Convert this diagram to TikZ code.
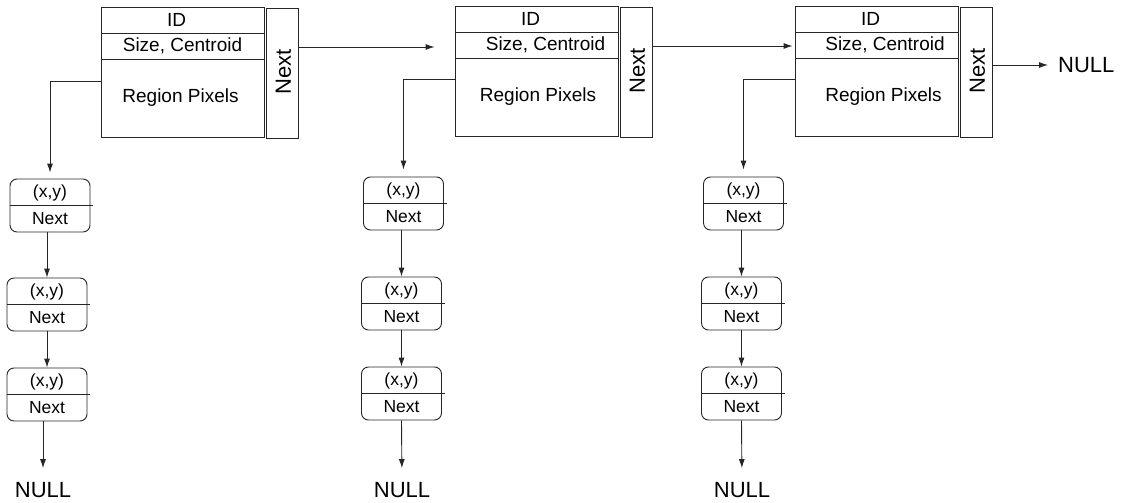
\documentclass[tikz,border=0pt]{standalone}
\usepackage{fontspec}
\setmainfont{Liberation Sans}
\usetikzlibrary{arrows.meta,calc}
\tikzset{
  ln/.style={line width=0.9pt, draw=black!85},
  arr/.style={ln, -{Latex[length=9pt,width=6pt]}},
  part/.style={ln, rectangle, minimum width=163pt, inner sep=0pt},
  nextbox/.style={ln, rectangle, minimum width=32pt, minimum height=130pt, inner sep=0pt},
  btxt/.style={inner sep=0pt, font=\fontsize{19}{21}\selectfont},
  ntxt/.style={inner sep=0pt, font=\fontsize{22}{24}\selectfont, rotate=90},
  pt/.style={ln, rectangle, rounded corners=7pt, minimum width=80pt, minimum height=53pt, inner sep=0pt},
  pttxt/.style={inner sep=0pt, font=\fontsize{17.5}{19}\selectfont},
  nulltxt/.style={inner sep=0pt, font=\fontsize{22}{24}\selectfont},
}
\newcommand{\ptnode}[3]{%
  \node[pt] (#1) at (#2,#3+26.5) {};
  \draw[ln] (#1.west) -- ([xshift=3pt]#1.east);
  \node[pttxt] (#1xy) at (#2,#3+13.5) {(x,y)};
  \node[pttxt] (#1nx) at (#2,#3+40) {Next};
}
\newcommand{\blocknode}[3]{%
  % #1 name, #2 center x of main box, #3 top y
  \node[part, minimum height=26pt] (#1id) at (#2,#3+13) {};
  \node[part, minimum height=26pt] (#1sz) at (#2,#3+39) {};
  \node[part, minimum height=78pt] (#1rg) at (#2,#3+91) {};
  \node[nextbox] (#1nx) at (#2+100,#3+66) {};
  \node[ntxt] (#1nxt) at (#2+101,#3+65) {Next};
}
\begin{document}
\begin{tikzpicture}[x=1pt,y=-1pt]
\useasboundingbox (0,0) rectangle (1122,503);
% block 1
\blocknode{b1}{182.5}{7}
\node[btxt] (b1idt) at (176.5,20) {ID};
\node[btxt] (b1szt) at (182.5,46) {Size, Centroid};
\node[btxt] (b1rgt) at (180.5,98) {Region Pixels};
% block 2
\blocknode{b2}{536.5}{6}
\node[btxt] (b2idt) at (530.5,19) {ID};
\node[btxt] (b2szt) at (545.5,45) {Size, Centroid};
\node[btxt] (b2rgt) at (538,97) {Region Pixels};
% block 3
\blocknode{b3}{876.5}{6}
\node[btxt] (b3idt) at (870.5,19) {ID};
\node[btxt] (b3szt) at (885,45) {Size, Centroid};
\node[btxt] (b3rgt) at (883.5,97) {Region Pixels};
\node[nulltxt, anchor=west] (nullr) at (1058,65) {NULL};
% point lists
\ptnode{p11}{50}{179}
\ptnode{p12}{47}{278}
\ptnode{p13}{47}{368}
\ptnode{p21}{403.5}{177}
\ptnode{p22}{401.5}{277}
\ptnode{p23}{401.5}{367}
\ptnode{p31}{743.5}{177}
\ptnode{p32}{741.5}{277}
\ptnode{p33}{741.5}{367}
\node[nulltxt] (null1) at (43,490) {NULL};
\node[nulltxt] (null2) at (402,490) {NULL};
\node[nulltxt] (null3) at (742,490) {NULL};
% horizontal links
\coordinate (o1) at ([yshift=26pt]b1nx.east);
\coordinate (o2) at ([yshift=26pt]b2nx.east);
\coordinate (o3) at ([yshift=7pt]b3nx.east);
\draw[arr, shorten >=20pt] (o1) -- (o1 -| b2sz.west);
\draw[arr, shorten >=2pt] (o2) -- (o2 -| b3sz.west);
\draw[arr, shorten >=10pt] (o3) -- (o3 -| nullr.west);
% down links from blocks
\draw[arr, shorten >=6pt] ([yshift=17pt]b1rg.west) -| (p11.north);
\draw[arr, shorten >=7pt] ([yshift=18pt]b2rg.west) -| (p21.north);
\draw[arr, shorten >=7pt] ([yshift=18pt]b3rg.west) -| (p31.north);
% chains
\draw[arr] (p11.south -| p12.north) -- (p12.north);
\draw[arr] (p12.south) -- (p13.north);
\draw[arr, shorten >=14pt] (p13.south -| null1.north) -- (null1.north);
\draw[arr] (p21.south -| p22.north) -- (p22.north);
\draw[arr] (p22.south) -- (p23.north);
\draw[arr, shorten >=14pt] (p23.south) -- (null2.north);
\draw[arr] (p31.south -| p32.north) -- (p32.north);
\draw[arr] (p32.south) -- (p33.north);
\draw[arr, shorten >=14pt] (p33.south) -- (null3.north);
\end{tikzpicture}
\end{document}
